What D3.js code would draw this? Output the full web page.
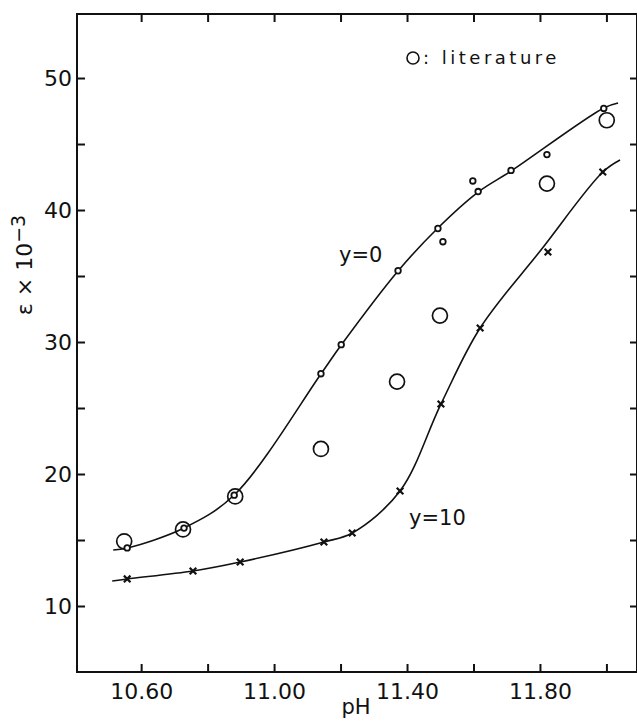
<!DOCTYPE html>
<html>
<head>
<meta charset="utf-8">
<script src="https://cdn.jsdelivr.net/npm/d3@7"></script>
<style>
    body { margin: 0; background: #fff; }
    svg { display: block; }
    .tick text { font-family: "DejaVu Sans", sans-serif; font-size: 22px; fill: #111; }
    .tick line { stroke: #111; stroke-width: 2; }
    .lbl { font-family: "DejaVu Sans", sans-serif; fill: #111; }
</style>
</head>
<body>
<div id="chart"></div>
<script>
// Measured points, y = 0 (small circles)
const y0PH  = [10.558, 10.729, 10.880, 11.141, 11.202, 11.373, 11.493, 11.508, 11.598, 11.614, 11.713, 11.821, 11.992];
const y0Eps = [14.4, 15.9, 18.4, 27.6, 29.8, 35.4, 38.6, 37.6, 42.2, 41.4, 43.0, 44.2, 47.7];

// Literature values (large circles)
const litPH  = [10.549, 10.726, 10.883, 11.141, 11.370, 11.499, 11.821, 12.001];
const litEps = [14.9, 15.8, 18.3, 21.9, 27.0, 32.0, 42.0, 46.8];

// Measured points, y = 10 (crosses)
const y10PH  = [10.558, 10.756, 10.898, 11.150, 11.235, 11.379, 11.502, 11.620, 11.824, 11.989];
const y10Eps = [12.05, 12.65, 13.33, 14.85, 15.53, 18.71, 25.30, 31.06, 36.82, 42.88];

// Hand-drawn smooth curves through the points
const y0CurvePH  = [10.516, 10.558, 10.729, 10.880, 11.141, 11.202, 11.373, 11.493, 11.614, 11.713, 11.992, 12.035];
const y0CurveEps = [14.24, 14.39, 15.91, 18.41, 27.58, 29.77, 35.38, 38.64, 41.36, 42.95, 47.73, 48.11];
const y10CurvePH  = [10.513, 10.558, 10.756, 10.898, 11.150, 11.235, 11.379, 11.502, 11.620, 11.803, 11.989, 12.041];
const y10CurveEps = [11.89, 12.05, 12.65, 13.33, 14.85, 15.53, 18.71, 25.30, 31.06, 36.97, 42.88, 43.79];

// Axis ticks
const xTicks = [10.6, 10.8, 11.0, 11.2, 11.4, 11.6, 11.8, 12.0];
const yTicks = [10, 15, 20, 25, 30, 35, 40, 45, 50];

const zip = (a, b) => a.map((v, i) => [v, b[i]]);

function createChart() {
    const width = 637;
    const height = 723;
    const box = { left: 77, right: 637, top: 14, bottom: 672 };

    const svg = d3.select("#chart").append("svg")
        .attr("width", width)
        .attr("height", height);

    const x = d3.scaleLinear().domain([10.407, 12.092]).range([box.left, box.right]);
    const y = d3.scaleLinear().domain([5, 54.85]).range([box.bottom, box.top]);

    // Axes: ticks point inward on all four sides
    svg.append("g")
        .attr("transform", `translate(0, ${box.bottom})`)
        .call(d3.axisBottom(x).tickValues(xTicks).tickSize(-8).tickPadding(11)
            .tickFormat((d, i) => i % 2 === 0 ? d.toFixed(2) : ""))
        .call(g => g.select(".domain").remove());

    svg.append("g")
        .attr("transform", `translate(0, ${box.top})`)
        .call(d3.axisTop(x).tickValues(xTicks).tickSize(-8).tickFormat(""))
        .call(g => g.select(".domain").remove());

    svg.append("g")
        .attr("transform", `translate(${box.left}, 0)`)
        .call(d3.axisLeft(y).tickValues(yTicks).tickSize(-8).tickPadding(5)
            .tickFormat(d => d % 10 === 0 ? d : ""))
        .call(g => g.select(".domain").remove());

    svg.append("g")
        .attr("transform", `translate(${box.right}, 0)`)
        .call(d3.axisRight(y).tickValues(yTicks).tickSize(-7).tickFormat(""))
        .call(g => g.select(".domain").remove());

    // Frame
    svg.append("rect")
        .attr("x", box.left)
        .attr("y", box.top)
        .attr("width", box.right - box.left)
        .attr("height", box.bottom - box.top)
        .attr("fill", "none")
        .attr("stroke", "#111")
        .attr("stroke-width", 2);

    // Curves
    const line = d3.line()
        .x(d => x(d[0]))
        .y(d => y(d[1]))
        .curve(d3.curveCatmullRom.alpha(0.5));

    [zip(y0CurvePH, y0CurveEps), zip(y10CurvePH, y10CurveEps)].forEach(c => {
        svg.append("path")
            .datum(c)
            .attr("d", line)
            .attr("fill", "none")
            .attr("stroke", "#111")
            .attr("stroke-width", 1.6);
    });

    // Literature (large open circles)
    svg.append("g").selectAll("circle")
        .data(zip(litPH, litEps))
        .join("circle")
        .attr("cx", d => x(d[0]))
        .attr("cy", d => y(d[1]))
        .attr("r", 7.5)
        .attr("fill", "none")
        .attr("stroke", "#111")
        .attr("stroke-width", 1.7);

    // y = 0 points
    svg.append("g").selectAll("circle")
        .data(zip(y0PH, y0Eps))
        .join("circle")
        .attr("cx", d => x(d[0]))
        .attr("cy", d => y(d[1]))
        .attr("r", 2.8)
        .attr("fill", "#fff")
        .attr("stroke", "#111")
        .attr("stroke-width", 1.8);

    // y = 10 points
    const cross = d3.symbol(d3.symbolX || d3.symbolCross).size(30);
    svg.append("g").selectAll("path")
        .data(zip(y10PH, y10Eps))
        .join("path")
        .attr("transform", d => `translate(${x(d[0])}, ${y(d[1])})`)
        .attr("d", cross)
        .attr("fill", "none")
        .attr("stroke", "#111")
        .attr("stroke-width", 2.2);

    // Curve labels
    svg.append("text").attr("class", "lbl")
        .attr("x", 339).attr("y", 262)
        .attr("font-size", 21)
        .text("y=0");

    svg.append("text").attr("class", "lbl")
        .attr("x", 409).attr("y", 525)
        .attr("font-size", 21)
        .text("y=10");

    // Legend
    svg.append("circle")
        .attr("cx", 413).attr("cy", 58).attr("r", 6)
        .attr("fill", "none").attr("stroke", "#111").attr("stroke-width", 1.6);

    svg.append("text").attr("class", "lbl")
        .attr("x", 423).attr("y", 64)
        .attr("font-size", 18)
        .attr("letter-spacing", "3.5px")
        .text(": literature");

    // Axis titles
    svg.append("text").attr("class", "lbl")
        .attr("x", 356).attr("y", 714)
        .attr("text-anchor", "middle")
        .attr("font-size", 21)
        .text("pH");

    const yLabelX = 32;
    const yLabelY = 265;
    const yLabel = svg.append("text").attr("class", "lbl")
        .attr("x", yLabelX).attr("y", yLabelY)
        .attr("text-anchor", "middle")
        .attr("font-size", 22)
        .attr("transform", `rotate(-90, ${yLabelX}, ${yLabelY})`);
    yLabel.append("tspan").text("ε × 10");
    yLabel.append("tspan").attr("dy", -7).attr("font-size", 19).text("−3");
}

createChart();
</script>
</body>
</html>
